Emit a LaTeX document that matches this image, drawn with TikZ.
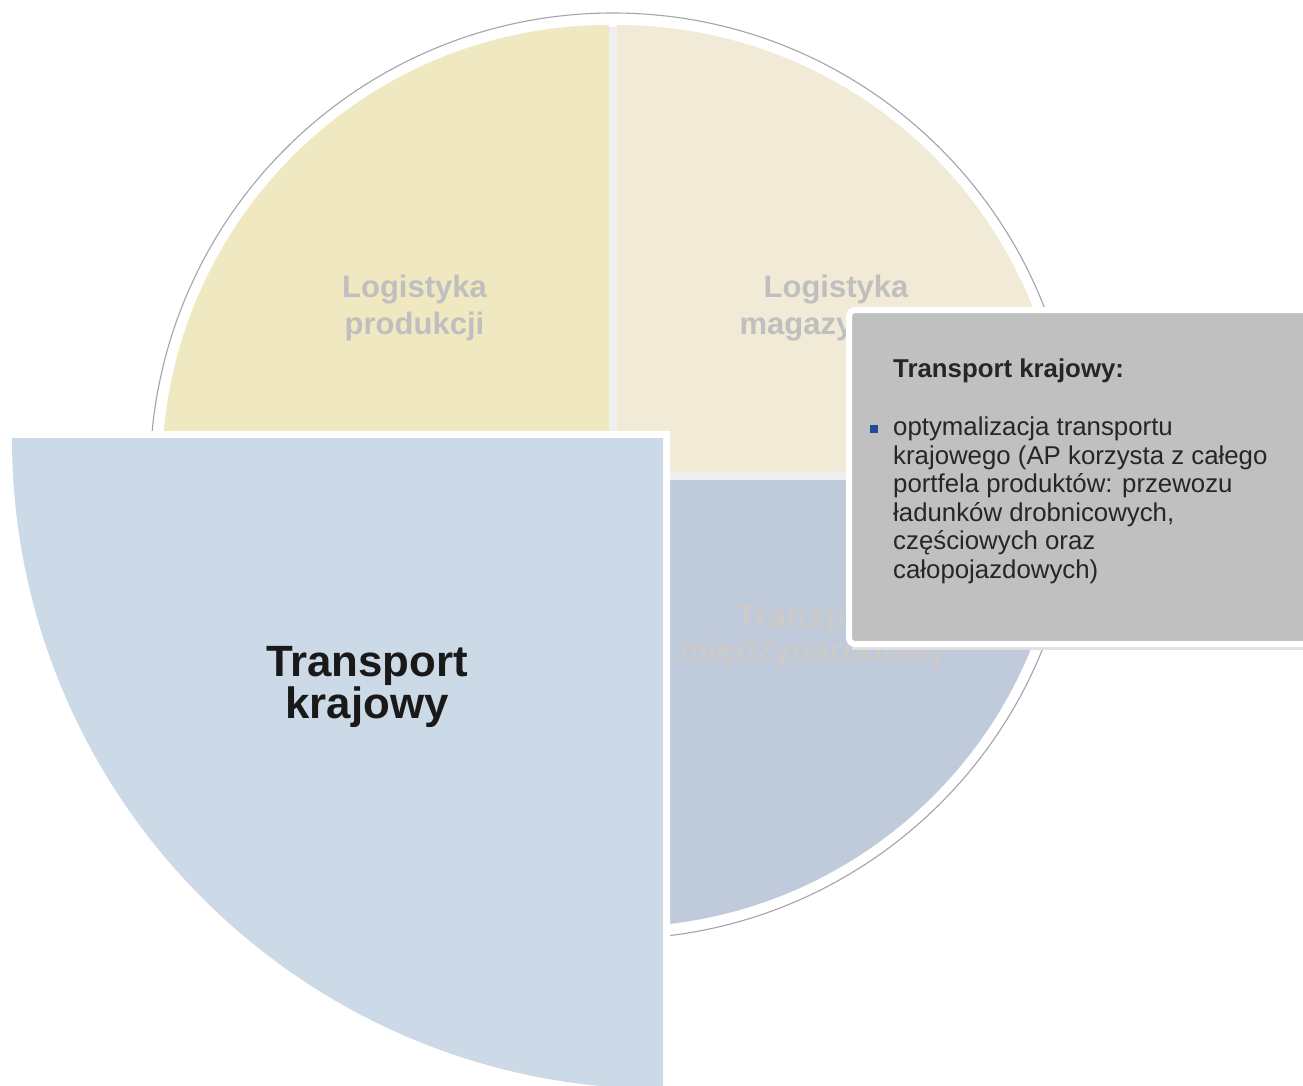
\documentclass[tikz,border=0pt]{standalone}
\usepackage{fontspec}
\setmainfont{Liberation Sans}
\definecolor{tlyellow}{HTML}{EFE8C1}
\definecolor{trbeige}{HTML}{F1EAD6}
\definecolor{brblue}{HTML}{BFCADB}
\definecolor{bigblue}{HTML}{CCD9E6}
\definecolor{gapgray}{HTML}{EFEFF2}
\definecolor{ringgray}{HTML}{A4A4AC}
\definecolor{boxgray}{HTML}{C0C0C0}
\definecolor{lblgray}{HTML}{BFBFBF}
\definecolor{lblblue}{HTML}{CCCACA}
\definecolor{bulletblue}{HTML}{1F4E96}
\definecolor{bodytext}{HTML}{262626}
\begin{document}
\begin{tikzpicture}[x=1pt,y=-1pt,
  qlabel/.style={font=\bfseries\fontsize{31}{37}\selectfont, align=center, anchor=base, inner sep=0, text=lblgray},
  biglabel/.style={font=\bfseries\fontsize{43.8}{41.5}\selectfont, align=center, anchor=base, inner sep=0, text=black!90},
  boxtitle/.style={font=\bfseries\fontsize{25.8}{28.5}\selectfont, anchor=base west, inner sep=0, text=bodytext},
  boxbody/.style={font=\fontsize{25.8}{28.5}\selectfont, align=left, anchor=base west, inner sep=0, text=bodytext},
  bulletsq/.style={fill=bulletblue, minimum size=8, inner sep=0, draw=none}]
\clip (0,0) rectangle (1303,1086);
\fill[white] (0,0) rectangle (1303,1086);
% background disc and outer ring
\fill[gapgray] (613,476) circle[radius=449];
\draw[ringgray, line width=1.1] (613,476) circle[radius=463];
% quadrants
\fill[tlyellow] (609,472) -- ++(180:447) arc[start angle=180, end angle=270, radius=447] -- cycle;
\fill[trbeige] (617,472) -- ++(270:447) arc[start angle=270, end angle=360, radius=447] -- cycle;
\fill[brblue] (617,480) -- ++(0:447) arc[start angle=0, end angle=90, radius=447] -- cycle;
% quadrant labels (anchor = baseline of last line)
\node[qlabel] (lp) at (414.5,334) {Logistyka\\produkcji};
\node[qlabel] (lm) at (836,334) {Logistyka\\magazynowa};
\node[qlabel, text=lblblue, font=\bfseries\fontsize{33}{34}\selectfont] (tm) at (813,661) {Transport\\międzynarodowy};
% enlarged quadrant
\fill[white] (670,431) -- ++(180:658) arc[start angle=180, end angle=90, radius=658] -- cycle;
\fill[bigblue] (663,438) -- ++(180:651) arc[start angle=180, end angle=90, radius=651] -- cycle;
\node[biglabel] (tk) at (367,718) {Transport\\krajowy};
% description box
\fill[black!12] (852,318) rectangle (1340,650);
\draw[white, line width=6, fill=boxgray, rounded corners=6] (849,310) rectangle (1340,644);
\node[boxtitle] (bt) at (893,377) {Transport krajowy:};
\node[bulletsq] (bul) at (874,429) {};
\node[boxbody] (bb) at (893,578) {optymalizacja transportu\\krajowego (AP korzysta z całego\\portfela produktów: przewozu\\ładunków drobnicowych,\\częściowych oraz\\całopojazdowych)};
\end{tikzpicture}
\end{document}
